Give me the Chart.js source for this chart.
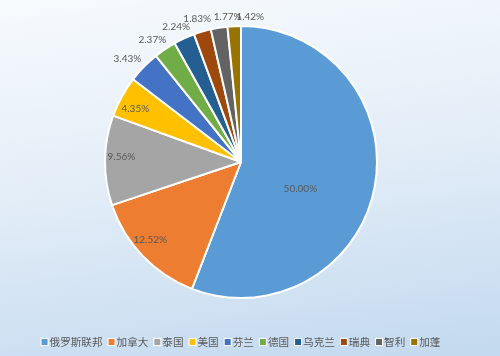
<!DOCTYPE html>
<html><head><meta charset="utf-8">
<script src="https://cdn.jsdelivr.net/npm/chart.js@4/dist/chart.umd.min.js"></script>
<style>
html,body{margin:0;padding:0;width:500px;height:356px;overflow:hidden;}
body{background:linear-gradient(172deg,#f7fafd 0%,#e4eef8 45%,#c3d9ef 100%);}
#wrap{position:relative;width:500px;height:356px;}
</style></head>
<body><div id="wrap"><canvas id="c" width="500" height="356"></canvas></div>
<script>
const categories = ['俄罗斯联邦','加拿大','泰国','美国','芬兰','德国','乌克兰','瑞典','智利','加蓬'];
const shares = [50.00, 12.52, 9.56, 4.35, 3.43, 2.37, 2.24, 1.83, 1.77, 1.42];
const valueLabels = ['50.00%','12.52%','9.56%','4.35%','3.43%','2.37%','2.24%','1.83%','1.77%','1.42%'];
const colors = ['#5B9BD5','#ED7D31','#A5A5A5','#FFC000','#4472C4','#70AD47','#255E91','#9E480E','#636363','#997300'];

// label placement: [angle shift in degrees from slice middle, radius factor]
const labelPlace = [[14,0.48],[3,0.88],[2,0.88],[-2,0.87],[-2,1.13],[-2,1.11],[-1,1.10],[-0.5,1.10],[4,1.07],[6.5,1.07]];

const labelPlugin = {
  id:'sliceLabels',
  afterDatasetsDraw(chart){
    const ctx = chart.ctx;
    const meta = chart.getDatasetMeta(0);
    ctx.save();
    ctx.font = '10px Lato, "Liberation Sans", sans-serif';
    ctx.fillStyle = '#595959';
    ctx.textAlign = 'center';
    ctx.textBaseline = 'middle';
    meta.data.forEach((arc,i)=>{
      const p = arc.getProps(['x','y','startAngle','endAngle','outerRadius'],true);
      const mid = (p.startAngle+p.endAngle)/2 + labelPlace[i][0]*Math.PI/180;
      const r = p.outerRadius*labelPlace[i][1];
      ctx.fillText(valueLabels[i], p.x+Math.cos(mid)*r, p.y+Math.sin(mid)*r);
    });
    ctx.restore();
  }
};

const legendPlugin = {
  id:'customLegend',
  afterDraw(chart){
    const ctx = chart.ctx;
    ctx.save();
    ctx.font = '10.6px "Noto Sans CJK SC", sans-serif';
    const box = 6, gapAfterBox = 2, gapItem = 6;
    const widths = categories.map(c=>box+gapAfterBox+ctx.measureText(c).width);
    const total = widths.reduce((a,b)=>a+b,0)+gapItem*(categories.length-1);
    const cx = (chart.chartArea.left+chart.chartArea.right)/2;
    let x = cx-total/2;
    const y = 342;
    ctx.textBaseline = 'middle';
    categories.forEach((c,i)=>{
      ctx.fillStyle = '#ffffff';
      ctx.fillRect(x-1, y-box/2-1, box+2, box+2);
      ctx.fillStyle = colors[i];
      ctx.fillRect(x, y-box/2, box, box);
      ctx.fillStyle = '#595959';
      ctx.fillText(c, x+box+gapAfterBox, y);
      x += widths[i]+gapItem;
    });
    ctx.restore();
  }
};

new Chart(document.getElementById('c'),{
  type:'pie',
  data:{labels:categories,datasets:[{data:shares,backgroundColor:colors,borderColor:'#ffffff',borderWidth:2}]},
  options:{
    responsive:false,animation:false,
    layout:{padding:{top:25,bottom:57,left:0,right:18}},
    plugins:{legend:{display:false},tooltip:{enabled:false}}
  },
  plugins:[labelPlugin,legendPlugin]
});
</script></body></html>
